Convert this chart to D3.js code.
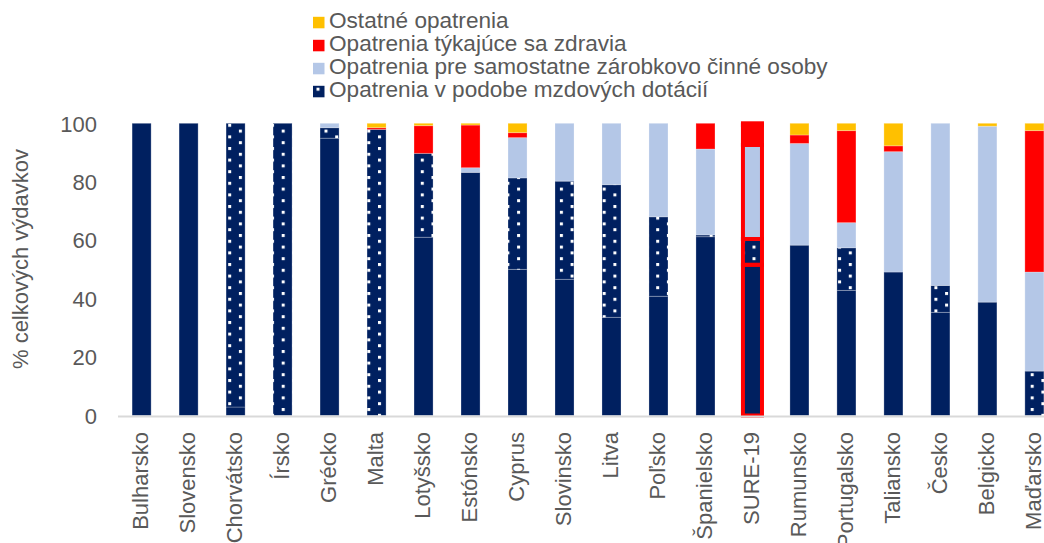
<!DOCTYPE html>
<html>
<head>
<meta charset="utf-8">
<script src="https://cdn.jsdelivr.net/npm/d3@7"></script>
<style>
  body { margin: 0; background: #fff; }
  svg { font-family: "Liberation Sans", Arial, sans-serif; }
</style>
</head>
<body>
<div id="chart"></div>
<script>
"use strict";
// krajiny (poradie ako v grafe)
const krajiny = ["Bulharsko","Slovensko","Chorvátsko","Írsko","Grécko","Malta","Lotyšsko","Estónsko","Cyprus","Slovinsko",
  "Litva","Poľsko","Španielsko","SURE-19","Rumunsko","Portugalsko","Taliansko","Česko","Belgicko","Maďarsko"];
// mzdové dotácie - plná časť
const mzdovePlne   = [100,100, 2.9,  0, 94.9,  0, 61.0, 83.2, 50.0, 46.6, 33.6, 40.8, 61.2, 51.6, 58.3, 42.8, 49.1, 35.3, 38.8,  0];
// mzdové dotácie - bodkovaná časť
const mzdoveBodky  = [  0,  0, 97.1,100, 3.6, 97.9, 28.7,  0, 31.3, 33.6, 45.4, 27.2,  0.6,  8.8,  0, 14.6,  0,  9.2,  0, 15.2];
// samostatne zárobkovo činné osoby
const samostatne   = [  0,  0,  0,   0,  1.5,  0,   0,    1.6, 13.8, 19.8, 21.0, 32.0, 29.4, 32.2, 34.8,  8.6, 41.2, 55.5, 60.2, 33.9];
// opatrenia týkajúce sa zdravia
const zdravie      = [  0,  0,  0,   0,  0,   0.6,  9.5, 14.6,  1.7,  0,    0,    0,    8.8,  6.8,  2.9, 31.5,  2.0,  0,    0,   48.4];
// ostatné opatrenia
const ostatne      = [  0,  0,  0,   0,  0,   1.5,  0.8,  0.6,  3.2,  0,    0,    0,    0,    0.6,  4.0,  2.5,  7.7,  0,    1.0,  2.5];
const yTicks = [0,20,40,60,80,100];

const legenda = [
  {kluc:"ostatne", text:"Ostatné opatrenia"},
  {kluc:"zdravie", text:"Opatrenia týkajúce sa zdravia"},
  {kluc:"samostatne", text:"Opatrenia pre samostatne zárobkovo činné osoby"},
  {kluc:"bodky", text:"Opatrenia v podobe mzdových dotácií"}
];

const W = 1044, H = 543;
const farby = {plne:"#002060", bodky:"url(#bodky)", samostatne:"#B4C7E7", zdravie:"#FF0000", ostatne:"#FFC000"};
const sivaText = "#595959";

const rows = krajiny.map((k,i)=>({
  krajina:k, plne:mzdovePlne[i], bodky:mzdoveBodky[i], samostatne:samostatne[i], zdravie:zdravie[i], ostatne:ostatne[i]
}));
const keys = ["plne","bodky","samostatne","zdravie","ostatne"];
const series = d3.stack().keys(keys)(rows);

const svg = d3.select("#chart").append("svg").attr("width",W).attr("height",H);

// vzor bodiek pre mzdové dotácie
const defs = svg.append("defs");
const pat = defs.append("pattern").attr("id","bodky").attr("patternUnits","userSpaceOnUse")
  .attr("width",21.4).attr("height",11.6).attr("x",3.5).attr("y",2);
pat.append("rect").attr("width",21.4).attr("height",11.6).attr("fill","#002060");
pat.append("rect").attr("x",0).attr("y",0).attr("width",3).attr("height",3).attr("fill","#fff");
pat.append("rect").attr("x",10.7).attr("y",5.8).attr("width",3).attr("height",3).attr("fill","#fff");

const x = d3.scaleBand().domain(krajiny).range([118, 1058]).paddingInner(0.595).paddingOuter(0.3);
const y = d3.scaleLinear().domain([0,100]).range([415.5, 123.3]);

// stĺpce
const g = svg.append("g");
g.selectAll("g.serie").data(series).enter().append("g").attr("class","serie")
  .attr("fill",s=>farby[s.key])
  .selectAll("rect").data(s=>s.filter(d=>d[1]-d[0]>0)).enter().append("rect")
  .attr("x",d=>x(d.data.krajina))
  .attr("width",x.bandwidth())
  .attr("y",d=>y(d[1]))
  .attr("height",d=>y(d[0])-y(d[1]))
  .attr("stroke",d=>d.data.krajina==="SURE-19" ? "#FF0000" : "rgba(255,255,255,0.25)")
  .attr("stroke-width",d=>d.data.krajina==="SURE-19" ? 4 : 1);

// os x
svg.append("line").attr("x1",118).attr("x2",W).attr("y1",416.5).attr("y2",416.5)
  .attr("stroke","#d9d9d9").attr("stroke-width",2);

const xAxis = svg.append("g").attr("transform","translate(0,432)")
  .call(d3.axisBottom(x).tickSize(0).tickPadding(0));
xAxis.select(".domain").remove();
xAxis.selectAll("text")
  .attr("transform","rotate(-90)")
  .attr("text-anchor","end")
  .attr("x",0).attr("y",-1).attr("dy","0.35em")
  .attr("font-size",22).attr("fill",sivaText)
  .style("font-family","'Liberation Sans', Arial, sans-serif");

// os y
const yAxis = svg.append("g").attr("transform","translate(97,0)")
  .call(d3.axisLeft(y).tickValues(yTicks).tickSize(0).tickPadding(0));
yAxis.select(".domain").remove();
yAxis.selectAll("text").attr("font-size",22).attr("fill",sivaText).attr("dy","0.35em")
  .style("font-family","'Liberation Sans', Arial, sans-serif");

svg.append("text").attr("transform","translate(28,259) rotate(-90)")
  .attr("text-anchor","middle").attr("font-size",22).attr("fill",sivaText)
  .text("% celkových výdavkov");

// legenda
const leg = svg.append("g").selectAll("g").data(legenda).enter().append("g")
  .attr("transform",(d,i)=>`translate(313,${28.3 + i*23})`);
leg.append("rect").attr("x",0).attr("y",-11.5).attr("width",11.5).attr("height",11.5)
  .attr("fill",d=>farby[d.kluc]);
leg.append("text").attr("x",16).attr("y",0).attr("font-size",22.6).attr("fill",sivaText)
  .text(d=>d.text);
</script>
</body>
</html>
